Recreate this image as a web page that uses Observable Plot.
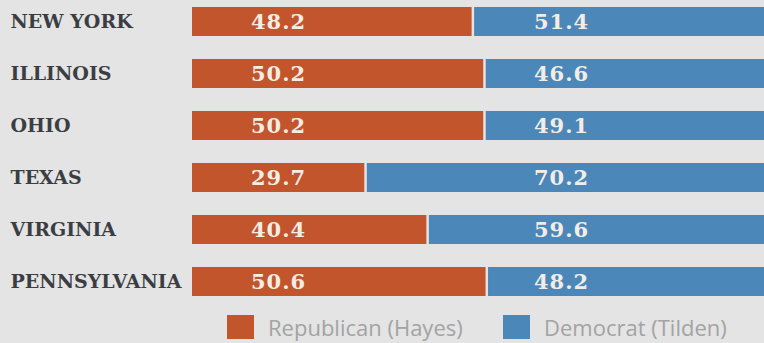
<!DOCTYPE html>
<html>
<head>
<meta charset="utf-8">
<script src="https://cdn.jsdelivr.net/npm/d3@7"></script>
<script src="https://cdn.jsdelivr.net/npm/@observablehq/plot@0.6"></script>
<style>
  html, body { margin: 0; padding: 0; background: #e4e4e4; overflow: hidden; }
  #chart { width: 764px; height: 343px; position: relative; }
  #chart svg { display: block; background: #e4e4e4; }
  #chart svg g[aria-label="text"] text { letter-spacing: 1px; }
  .legend { position: relative; height: 39px; font-family: "Open Sans", sans-serif; font-size: 22px; line-height: 26px; color: #a3a3a3; }
  .legend .item { position: absolute; top: 9px; height: 28px; display: flex; align-items: center; }
  .legend .sw { width: 27px; height: 24px; margin-right: 14px; }
</style>
</head>
<body>
<div id="chart"></div>
<script>
const states = ["NEW YORK", "ILLINOIS", "OHIO", "TEXAS", "VIRGINIA", "PENNSYLVANIA"];
const republican = [48.2, 50.2, 50.2, 29.7, 40.4, 50.6];
const democrat = [51.4, 46.6, 49.1, 70.2, 59.6, 48.2];
const parties = ["Republican (Hayes)", "Democrat (Tilden)"];
const colors = ["#c3552c", "#4b87b8"];
const total = 100;

const rows = states.map((s, i) => ({state: s, rep: republican[i], dem: democrat[i]}));

const labelFont = {fontFamily: "DejaVu Serif", fontWeight: "bold", fill: "#f3ede6", fontSize: 21, textAnchor: "middle", frameAnchor: "left"};

const plot = Plot.plot({
  width: 764,
  height: 304,
  marginLeft: 192,
  marginRight: 0,
  marginTop: 0,
  marginBottom: 0,
  style: {background: "#e4e4e4"},
  x: {domain: [0, 98.6], axis: null},
  y: {domain: states, paddingInner: 0.44, paddingOuter: 0.134, label: null},
  marks: [
    Plot.barX(rows, {x1: 0, x2: "rep", y: "state", fill: colors[0], clip: true}),
    Plot.barX(rows, {x1: "rep", x2: () => total, y: "state", fill: colors[1], insetLeft: 2.5, clip: true}),
    Plot.axisY({tickSize: 0, tickPadding: 0, textAnchor: "start", dx: -182, fontSize: 19, fontFamily: "DejaVu Serif", fontWeight: "bold", fill: "#3a3d42", stroke: "#3a3d42", strokeWidth: 0.5, label: null}),
    Plot.text(rows, {y: "state", text: d => d.rep.toFixed(1), dx: 86, ...labelFont}),
    Plot.text(rows, {y: "state", text: d => d.dem.toFixed(1), dx: 369, ...labelFont})
  ]
});

const chart = document.getElementById("chart");
chart.appendChild(plot);
const legend = document.createElement("div");
legend.className = "legend";
const lefts = [227, 503];
parties.forEach((p, i) => {
  const item = document.createElement("div");
  item.className = "item";
  item.style.left = lefts[i] + "px";
  const sw = document.createElement("span");
  sw.className = "sw";
  sw.style.background = colors[i];
  const t = document.createElement("span");
  t.textContent = p;
  item.appendChild(sw);
  item.appendChild(t);
  legend.appendChild(item);
});
chart.appendChild(legend);
</script>
</body>
</html>
